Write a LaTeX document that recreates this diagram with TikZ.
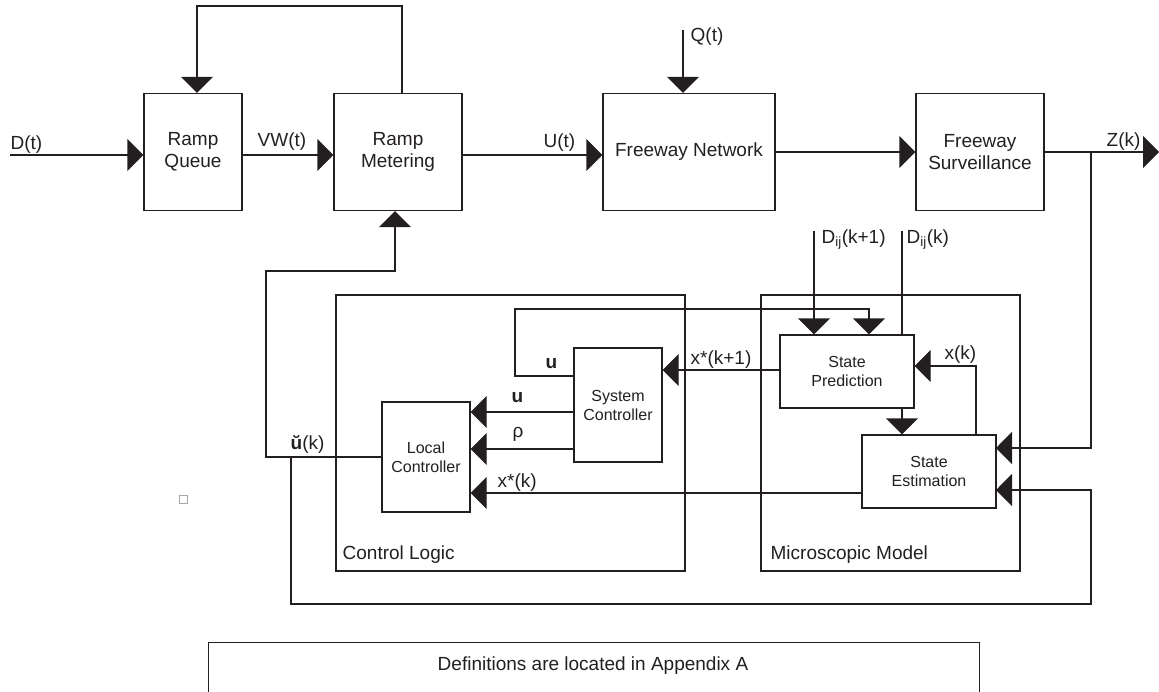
\documentclass[tikz,border=0pt]{standalone}
\usepackage{fontspec}
\setmainfont{Liberation Sans}
\usetikzlibrary{arrows.meta}
\definecolor{ink}{HTML}{231F20}
\tikzset{
  every path/.style={line width=1.3pt},
  arr/.style={-{Triangle[length=16pt,width=32pt]}},
  bigbox/.style={draw=ink, line width=1.3pt, inner sep=0pt, align=center, font=\fontsize{19}{22}\selectfont},
  smallbox/.style={draw=ink, line width=1.3pt, inner sep=0pt, align=center, font=\fontsize{16}{19}\selectfont},
  lbl/.style={inner sep=0pt, anchor=base west, font=\fontsize{19}{22}\selectfont, text=ink},
}
\begin{document}
\begin{tikzpicture}[x=1pt, y=-1pt, color=ink]
\useasboundingbox (0,0) rectangle (1159,691);

% top row boxes
\node[bigbox, minimum width=98pt, minimum height=117pt] (rq) at (193,152) {Ramp\\Queue};
\node[bigbox, minimum width=128pt, minimum height=117pt] (rm) at (398,152) {Ramp\\Metering};
\node[bigbox, minimum width=172pt, minimum height=117pt] (fn) at (689,152) {Freeway Network};
\node[bigbox, minimum width=128pt, minimum height=117pt] (fs) at (980,152) {Freeway\\Surveillance};

% group boxes
\node[draw=ink, minimum width=349pt, minimum height=276pt, inner sep=0pt] (cl) at (510.5,433) {};
\node[draw=ink, minimum width=259pt, minimum height=276pt, inner sep=0pt] (mm) at (890.5,433) {};
\node[lbl] (cllbl) at (342,559) {Control Logic};
\node[lbl] (mmlbl) at (770,559) {Microscopic Model};

% inner boxes
\node[smallbox, minimum width=88pt, minimum height=114pt] (sc) at (618,405) {System\\Controller};
\node[smallbox, minimum width=88pt, minimum height=110pt] (lc) at (426,457) {Local\\Controller};
\node[smallbox, minimum width=134pt, minimum height=73pt] (sp) at (847,371.5) {State\\Prediction};
\node[smallbox, minimum width=134pt, minimum height=73pt] (se) at (929,471.5) {State\\Estimation};

% definitions box
\node[draw=ink, minimum width=771pt, minimum height=116pt, inner sep=0pt, anchor=north west] (defbox) at (208,642) {};
\node[inner sep=0pt, font=\fontsize{19}{22}\selectfont] (deftext) at (593,666) {Definitions are located in Appendix A};

% small square
\draw[line width=0.6pt, draw=gray!70] (179,495) rectangle (187,503);

% coordinates
\coordinate (din) at (10,155);
\coordinate (fb1) at (402,6);
\coordinate (fb2) at (197,6);
\coordinate (q) at (683,30);
\coordinate (zout) at (1159,152);
\coordinate (zb) at (1091,152);
\coordinate (se1) at (996,448);
\coordinate (se2) at (996,490);
\coordinate (lb1) at (1091,604);
\coordinate (fb3) at (266,271);
\coordinate (fb4) at (395,271);
\coordinate (uk) at (291,457);
\coordinate (sl1) at (574,376);
\coordinate (sl2) at (515,309);
\coordinate (sl3) at (869,309);
\coordinate (uy) at (0,412);
\coordinate (ry) at (0,449);
\coordinate (xky) at (0,493);
\coordinate (xk1y) at (0,370);
\coordinate (d1) at (814,231);
\coordinate (d2) at (902,231);
\coordinate (xk) at (976,366);

% top row connectors
\draw[arr] (din) -- (din -| rq.west);
\draw[arr] (rq.east |- din) -- (rm.west |- din);
\draw[arr] (rm.east |- din) -- (fn.west |- din);
\draw[arr] (rm.north -| fb1) -- (fb1) -- (fb2) -- (fb2 |- rq.north);
\draw[arr] (q) -- (q |- fn.north);
\draw[arr] (fn.east) -- (fs.west);
\draw[arr] (fs.east) -- (zout);

% Z(k) branch and bottom loop
\draw[arr] (zb) |- (se1);
\draw[arr] (uk) |- (lb1) |- (se2);

% u-breve feedback to ramp metering
\draw[arr] (lc.west) -- (lc.west -| fb3) -- (fb3) -- (fb4) -- (fb4 |- rm.south);

% control logic connectors
\draw[arr] (sl1) -| (sl2) -| (sp.north -| sl3);
\draw[arr] (sc.west |- uy) -- (lc.east |- uy);
\draw[arr] (sc.west |- ry) -- (lc.east |- ry);
\draw[arr] (se.west |- xky) -- (lc.east |- xky);
\draw[arr] (sp.west |- xk1y) -- (sc.east |- xk1y);

% microscopic model connectors
\draw[arr] (d1) -- (d1 |- sp.north);
\draw (d2) -- (d2 |- sp.north);
\draw[arr] (sp.south -| d2) -- (se.north -| d2);
\draw[arr] (se.north -| xk) -- (xk) -- (xk -| sp.east);

% labels
\node[lbl] (ldt) at (10,149) {D(t)};
\node[lbl] (lvw) at (257,146) {VW(t)};
\node[lbl] (lut) at (543,147) {U(t)};
\node[lbl] (lqt) at (690,41) {Q(t)};
\node[lbl] (lzk) at (1106,146) {Z(k)};
\node[lbl] (ld1) at (821,243) {D\textsubscript{ij}(k+1)};
\node[lbl] (ld2) at (906,243) {D\textsubscript{ij}(k)};
\node[lbl] (lxk1) at (690,364) {x*(k+1)};
\node[lbl] (lxk) at (944,359) {x(k)};
\node[lbl] (lu1) at (545,368) {\bfseries u};
\node[lbl] (lu2) at (511,402) {\bfseries u};
\node[lbl] (lrho) at (512,437) {ρ};
\node[lbl] (lxs) at (497,487) {x*(k)};
\node[lbl] (luk) at (290,449) {{\bfseries ŭ}(k)};
\end{tikzpicture}
\end{document}
